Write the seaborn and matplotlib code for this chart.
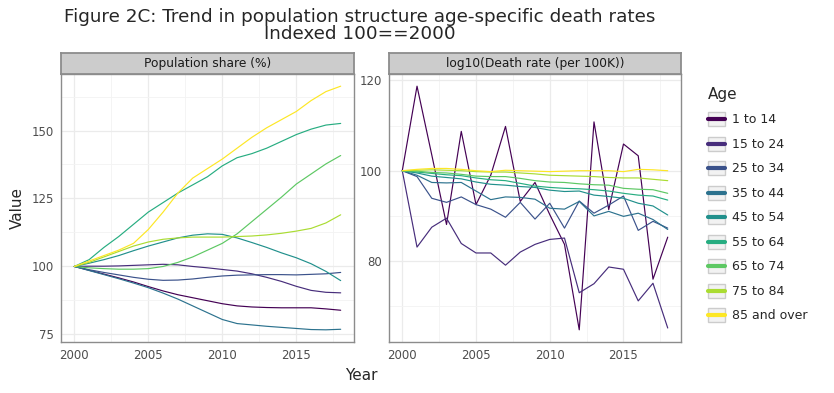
import numpy as np
import pandas as pd
import seaborn as sns
import matplotlib.pyplot as plt
from matplotlib.lines import Line2D
from matplotlib.patches import Rectangle
from matplotlib.legend_handler import HandlerLine2D
from matplotlib.ticker import MultipleLocator

years = list(range(2000, 2019))
ages = ["1 to 14", "15 to 24", "25 to 34", "35 to 44", "45 to 54",
        "55 to 64", "65 to 74", "75 to 84", "85 and over"]

# Population share (%), indexed 2000 = 100
pop_1_14 = [100, 98.6, 97.2, 95.8, 94.3, 92.6, 91.0, 89.6, 88.5, 87.4, 86.3, 85.5, 85.1, 84.9, 84.8, 84.8, 84.8, 84.4, 83.9]
pop_15_24 = [100, 100.1, 100.1, 100.2, 100.4, 100.6, 100.8, 100.6, 100.0, 99.5, 98.9, 98.3, 97.3, 96.0, 94.5, 92.7, 91.2, 90.5, 90.3]
pop_25_34 = [100, 98.8, 97.8, 96.9, 96.0, 95.3, 94.9, 95.0, 95.4, 96.0, 96.5, 96.8, 96.9, 97.0, 97.0, 96.9, 97.1, 97.3, 97.8]
pop_35_44 = [100, 98.5, 97.0, 95.5, 93.9, 92.2, 90.2, 88.0, 85.5, 83.0, 80.5, 79.0, 78.5, 78.0, 77.6, 77.2, 76.8, 76.7, 76.9]
pop_45_54 = [100, 101.2, 102.5, 104.0, 105.8, 107.5, 109.0, 110.5, 111.5, 112.0, 111.8, 110.5, 108.8, 107.0, 105.0, 103.2, 101.0, 98.2, 94.8]
pop_55_64 = [100, 102.5, 107.0, 111.0, 115.5, 120.0, 123.5, 127.0, 130.0, 133.0, 137.0, 140.0, 141.5, 143.5, 146.0, 148.5, 150.5, 152.0, 152.6]
pop_65_74 = [100, 99.5, 99.2, 99.0, 99.0, 99.2, 100.0, 101.5, 103.5, 106.0, 108.5, 112.0, 116.5, 121.0, 125.5, 130.3, 134.0, 137.7, 140.8]
pop_75_84 = [100, 101.5, 103.5, 105.5, 107.5, 109.0, 110.0, 110.5, 110.8, 110.8, 110.8, 111.0, 111.2, 111.6, 112.2, 113.0, 114.0, 116.0, 119.0]
pop_85 = [100, 102.0, 104.0, 106.0, 108.5, 113.6, 120.0, 127.0, 132.5, 136.0, 139.5, 143.5, 147.5, 151.0, 154.0, 157.0, 161.0, 164.3, 166.3]

# log10(Death rate per 100K), indexed 2000 = 100
dr_1_14 = [100, 118.7, 103.5, 88.1, 108.7, 92.5, 99.0, 109.8, 93.2, 97.4, 90.3, 83.7, 64.8, 110.8, 91.4, 105.9, 103.3, 76.0, 85.3]
dr_15_24 = [100, 83.1, 87.5, 89.5, 83.9, 81.8, 81.8, 79.1, 82.0, 83.7, 84.8, 85.1, 73.0, 75.0, 78.7, 78.2, 71.2, 75.1, 65.2]
dr_25_34 = [100, 98.7, 93.9, 93.0, 94.2, 92.5, 91.5, 89.7, 93.0, 89.3, 92.8, 87.3, 93.3, 90.6, 92.4, 94.4, 86.8, 88.8, 87.3]
dr_35_44 = [100, 99.0, 97.4, 97.3, 97.4, 95.5, 93.6, 94.2, 94.1, 93.7, 91.7, 91.5, 93.2, 90.0, 91.0, 89.9, 90.6, 89.2, 87.0]
dr_45_54 = [100, 99.5, 98.8, 98.5, 98.2, 97.5, 97.0, 96.8, 96.5, 96.3, 95.7, 95.4, 95.5, 94.6, 94.3, 93.9, 92.8, 92.2, 90.2]
dr_55_64 = [100, 99.7, 99.4, 99.1, 98.9, 98.4, 98.0, 97.8, 97.2, 96.6, 96.3, 96.1, 96.0, 95.8, 95.5, 95.0, 94.6, 94.4, 93.5]
dr_65_74 = [100, 99.9, 99.6, 99.5, 99.2, 98.8, 98.7, 98.7, 98.3, 97.8, 97.5, 97.4, 97.1, 96.9, 96.8, 96.1, 95.9, 95.8, 95.0]
dr_75_84 = [100, 100.1, 100.2, 100.1, 100.0, 99.8, 99.7, 99.7, 99.5, 99.3, 99.0, 98.9, 98.8, 98.7, 98.5, 98.4, 98.4, 98.1, 97.8]
dr_85 = [100, 100.3, 100.5, 100.5, 100.3, 100.0, 99.8, 100.1, 100.0, 99.9, 99.8, 99.9, 100.0, 100.0, 100.0, 99.8, 100.3, 100.2, 100.0]

pop_series = [pop_1_14, pop_15_24, pop_25_34, pop_35_44, pop_45_54,
              pop_55_64, pop_65_74, pop_75_84, pop_85]
dr_series = [dr_1_14, dr_15_24, dr_25_34, dr_35_44, dr_45_54,
             dr_55_64, dr_65_74, dr_75_84, dr_85]

palette = ["#440154", "#472D7B", "#3B528B", "#2C728E", "#21908C",
           "#27AD81", "#5DC863", "#AADC32", "#FDE725"]


def to_long(series):
    rows = []
    for age, vals in zip(ages, series):
        for y, v in zip(years, vals):
            rows.append({"Year": y, "Value": v, "Age": age})
    return pd.DataFrame(rows)


df_pop = to_long(pop_series)
df_dr = to_long(dr_series)

sns.set_style("white")
plt.rcParams['font.family'] = ['DejaVu Sans']

W, H = 834, 393
fig = plt.figure(figsize=(W / 100, H / 100), dpi=100)


def box(x0, y0, x1, y1):
    return [x0 / W, 1 - y1 / H, (x1 - x0) / W, (y1 - y0) / H]


panels = [
    (df_pop, "Population share (%)", 61, 354, [75, 100, 125, 150], 12.5),
    (df_dr, "log10(Death rate (per 100K))", 389, 681, [80, 100, 120], 10),
]

for data, label, x0, x1, yt, yminor in panels:
    ax = fig.add_axes(box(x0, 74, x1, 342))
    sns.lineplot(data=data, x="Year", y="Value", hue="Age", hue_order=ages,
                 palette=palette, linewidth=0.85, legend=False, ax=ax)
    ax.set_xlim(2000 - 0.05 * 18, 2018 + 0.05 * 18)
    ax.set_xticks([2000, 2005, 2010, 2015])
    ax.xaxis.set_minor_locator(MultipleLocator(2.5))
    ax.set_yticks(yt)
    ax.yaxis.set_minor_locator(MultipleLocator(yminor))
    ax.grid(which="major", color="#ebebeb", linewidth=0.9)
    ax.grid(which="minor", color="#f3f3f3", linewidth=0.6)
    ax.set_axisbelow(True)
    ax.tick_params(which="major", length=3, width=0.6, color="#333333",
                   labelsize=8.5, labelcolor="#4d4d4d", pad=2)
    ax.tick_params(which="minor", length=0)
    ax.set_xlabel("")
    ax.set_ylabel("")
    for s in ax.spines.values():
        s.set_color("#8c8c8c")
        s.set_linewidth(1.0)
    # facet strip
    sax = fig.add_axes(box(x0, 53, x1, 74))
    sax.set_facecolor("#cccccc")
    sax.set_xticks([])
    sax.set_yticks([])
    for s in sax.spines.values():
        s.set_color("#8c8c8c")
        s.set_linewidth(1.3)
    sax.text(0.5, 0.5, label, ha="center", va="center", fontsize=8.8,
             color="#1a1a1a", transform=sax.transAxes)

fig.text(360 / W, 1 - 8 / H,
         "Figure 2C: Trend in population structure age-specific death rates\nIndexed 100==2000",
         ha="center", va="top", fontsize=13.2, linespacing=0.92)
fig.text(361 / W, 1 - 375 / H, "Year", ha="center", va="center", fontsize=11)
fig.text(17 / W, 1 - 208 / H, "Value", ha="center", va="center",
         rotation=90, fontsize=11)


class KeyHandler(HandlerLine2D):
    def create_artists(self, legend, orig_handle, xdescent, ydescent,
                       width, height, fontsize, trans):
        rect = Rectangle((-xdescent, -ydescent), width, height,
                         facecolor="#f2f2f2", edgecolor="#cccccc",
                         linewidth=1.0, transform=trans)
        ln = Line2D([-xdescent, -xdescent + width],
                    [-ydescent + height / 2] * 2,
                    color=orig_handle.get_color(), linewidth=3,
                    transform=trans)
        return [rect, ln]


handles = [Line2D([], [], color=c) for c in palette]
leg = fig.legend(handles, ages, loc="upper left",
                 bbox_to_anchor=(708 / W, 1 - 87 / H), frameon=False,
                 title="Age", fontsize=9, title_fontsize=11,
                 handler_map={Line2D: KeyHandler()},
                 handlelength=1.36, handleheight=1.36, labelspacing=0.82,
                 handletextpad=0.6, borderpad=0, borderaxespad=0)
leg._legend_box.align = "left"

fig.savefig("out.png", dpi=100)
